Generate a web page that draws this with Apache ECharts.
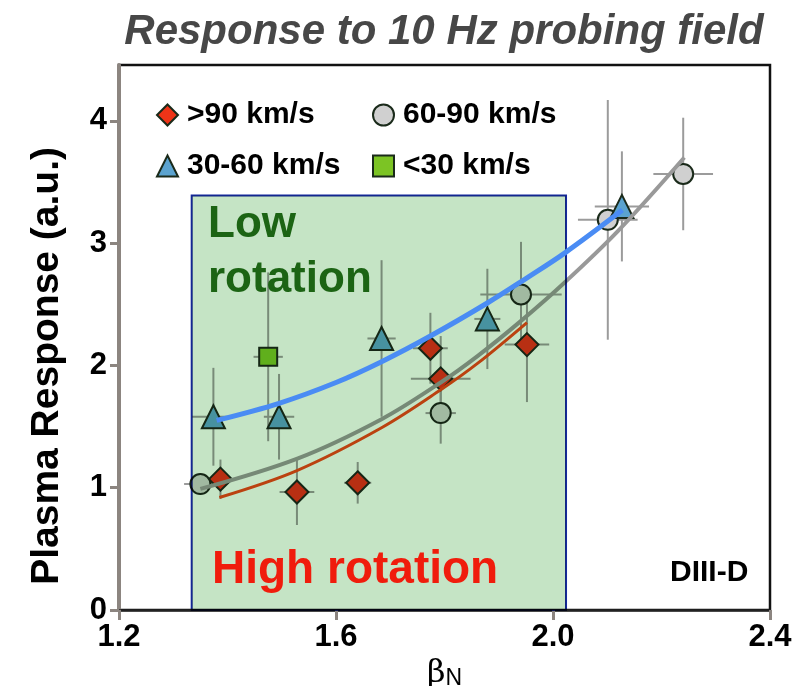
<!DOCTYPE html>
<html>
<head>
<meta charset="utf-8">
<title>Response to 10 Hz probing field</title>
<script src="https://cdn.jsdelivr.net/npm/echarts@6/dist/echarts.min.js"></script>
<style>
  html, body { margin: 0; padding: 0; background: #fff; }
  #chart { width: 802px; height: 686px; }
</style>
</head>
<body>
<div id="chart"></div>
<script>
// points: [betaN, response, xErr, yErr]
const fast = [
  [1.387, 1.07, 0.020, 0.16],
  [1.528, 0.965, 0.032, 0.27],
  [1.640, 1.04, 0.025, 0.17],
  [1.774, 2.14, 0.032, 0.29],
  [1.793, 1.89, 0.055, 0.35],
  [1.952, 2.17, 0.041, 0.47]
];
const mid = [
  [1.350, 1.03, 0.030, 0.04],
  [1.793, 1.61, 0.028, 0.25],
  [1.941, 2.58, 0.075, 0.43],
  [2.101, 3.19, 0.055, 0.98],
  [2.240, 3.565, 0.055, 0.46]
];
const slow = [
  [1.374, 1.58, 0.039, 0.40],
  [1.495, 1.58, 0.028, 0.35],
  [1.684, 2.22, 0.026, 0.64],
  [1.879, 2.38, 0.024, 0.41],
  [2.127, 3.30, 0.050, 0.45]
];
const veryslow = [
  [1.475, 2.07, 0.027, 0.69]
];

// fitted trend curves
const fitSlow = [[1.38, 1.55], [1.495, 1.69], [1.60, 1.86], [1.684, 2.03], [1.774, 2.24], [1.879, 2.51], [1.95, 2.71], [2.022, 2.92], [2.128, 3.27]];
const fitMid = [[1.35, 0.99], [1.53, 1.24], [1.684, 1.56], [1.793, 1.86], [1.862, 2.08], [1.94, 2.36], [2.022, 2.68], [2.12, 3.10], [2.242, 3.70]];
const fitFast = [[1.385, 0.92], [1.528, 1.14], [1.684, 1.49], [1.793, 1.80], [1.862, 2.02], [1.952, 2.35]];

// low rotation region: [x0, x1, y0, y1]
const lowBox = [1.334, 2.024, 0, 3.39];

const xTicks = [1.2, 1.6, 2.0, 2.4];
const yTicks = [0, 1, 2, 3, 4];
const names = ['>90 km/s', '60-90 km/s', '30-60 km/s', '<30 km/s'];

const sans = "'Liberation Sans', Arial, sans-serif";
const edge = '#1a2a1a';

let myChart = echarts.init(document.getElementById('chart'));

function errBars(params, api) {
  const x = api.value(0), y = api.value(1), dx = api.value(2), dy = api.value(3);
  const l = api.coord([x - dx, y]), r = api.coord([x + dx, y]);
  const t = api.coord([x, y + dy]), b = api.coord([x, y - dy]);
  const st = { stroke: '#9b9b9b', lineWidth: 2 };
  return {
    type: 'group',
    children: [
      { type: 'line', shape: { x1: l[0], y1: l[1], x2: r[0], y2: r[1] }, style: st },
      { type: 'line', shape: { x1: t[0], y1: t[1], x2: b[0], y2: b[1] }, style: st }
    ]
  };
}

function boxItem(params, api) {
  const p0 = api.coord([api.value(0), api.value(3)]);
  const p1 = api.coord([api.value(1), api.value(2)]);
  return {
    type: 'rect',
    shape: { x: p0[0], y: p0[1], width: p1[0] - p0[0], height: p1[1] - p0[1] },
    style: { fill: '#c5e4c5', stroke: '#1428a0', lineWidth: 2 }
  };
}

function scatter(name, data, symbol, size, color) {
  return {
    name: name, type: 'scatter', z: 2,
    symbol: symbol, symbolSize: size,
    data: data.map(d => [d[0], d[1]]),
    itemStyle: { color: color, borderColor: edge, borderWidth: 2, opacity: 1 }
  };
}

function fitLine(data, color, width, z) {
  return {
    type: 'line', z: z, smooth: 0.35,
    showSymbol: false, silent: true,
    data: data, lineStyle: { color: color, width: width }
  };
}

function legendAt(name, left, top) {
  return {
    data: [name], left: left, top: top,
    itemWidth: 21, itemHeight: 21,
    selectedMode: false,
    textStyle: { fontFamily: sans, fontWeight: 'bold', fontSize: 30, color: '#000', padding: [0, 0, 0, 4] }
  };
}

myChart.setOption({
  animation: false,
  backgroundColor: '#fff',
  title: {
    text: 'Response to 10 Hz probing field',
    left: 439, top: 6, textAlign: 'center',
    textStyle: { fontFamily: sans, fontStyle: 'italic', fontWeight: 'bold', fontSize: 42, color: '#474747' }
  },
  legend: [
    legendAt(names[0], 151, 95),
    legendAt(names[1], 367, 95),
    legendAt(names[2], 151, 146),
    legendAt(names[3], 367, 146)
  ],
  grid: {
    left: 119, right: 32, top: 65, bottom: 76,
    outerBoundsMode: 'none',
    show: true, borderColor: '#111', borderWidth: 2.5
  },
  xAxis: {
    type: 'value', min: 1.2, max: 2.4,
    splitLine: { show: false },
    axisLine: { lineStyle: { color: '#222', width: 2.5 } },
    axisTick: { customValues: xTicks, length: 10, lineStyle: { color: '#8c8580', width: 3 } },
    axisLabel: {
      customValues: xTicks, margin: 12,
      formatter: v => v.toFixed(1),
      fontFamily: sans, fontWeight: 'bold', fontSize: 31, color: '#000'
    },
    name: '{b|β}{n|N}', nameLocation: 'middle', nameGap: 40,
    nameTextStyle: {
      rich: {
        b: { fontFamily: 'DejaVu Serif', fontSize: 32, color: '#000', verticalAlign: 'bottom' },
        n: { fontFamily: sans, fontSize: 23, color: '#000', padding: [14, 0, 0, 0] }
      }
    }
  },
  yAxis: {
    type: 'value', min: 0, max: 4.456,
    splitLine: { show: false },
    axisLine: { lineStyle: { color: '#8c8580', width: 4 } },
    axisTick: { customValues: yTicks, length: 9, lineStyle: { color: '#8c8580', width: 3 } },
    axisLabel: {
      customValues: yTicks, margin: 12,
      fontFamily: sans, fontWeight: 'bold', fontSize: 31, color: '#000'
    }
  },
  graphic: [
    {
      type: 'text', left: 28, top: 367 - 220, rotation: Math.PI / 2,
      style: { text: 'Plasma Response (a.u.)', fontFamily: sans, fontWeight: 'bold', fontSize: 39, fill: '#000' }
    },
    { type: 'text', x: 208, y: 247, z: 100, style: { text: 'Low', fontFamily: sans, fontWeight: 'bold', fontSize: 44, fill: '#1c6414', verticalAlign: 'bottom' } },
    { type: 'text', x: 208, y: 302, z: 100, style: { text: 'rotation', fontFamily: sans, fontWeight: 'bold', fontSize: 44, fill: '#1c6414', verticalAlign: 'bottom' } },
    { type: 'text', x: 212, y: 593, z: 100, style: { text: 'High rotation', fontFamily: sans, fontWeight: 'bold', fontSize: 46, fill: '#f01c0c', verticalAlign: 'bottom' } },
    { type: 'text', x: 670, y: 588, z: 100, style: { text: 'DIII-D', fontFamily: sans, fontWeight: 'bold', fontSize: 30, fill: '#000', verticalAlign: 'bottom' } }
  ],
  series: [
    {
      type: 'custom', z: 1, silent: true,
      renderItem: errBars,
      encode: { x: 0, y: 1 },
      data: fast.concat(mid, slow, veryslow)
    },
    scatter(names[0], fast, 'diamond', 23, '#ee3418'),
    scatter(names[1], mid, 'circle', 20, '#d0d0d0'),
    scatter(names[2], slow, 'triangle', 23, '#5ba3cf'),
    scatter(names[3], veryslow, 'rect', 18, '#7cc424'),
    fitLine(fitMid, '#999', 4, 3),
    fitLine(fitFast, '#f24a14', 3, 3),
    {
      // green region is multiplied over the marks below it
      type: 'custom', z: 4, silent: true,
      blendMode: 'multiply',
      renderItem: boxItem,
      data: [lowBox]
    },
    fitLine(fitSlow, '#4a8cf4', 5, 5)
  ]
});

window.addEventListener('resize', () => {
  myChart.resize();
});
</script>
</body>
</html>
